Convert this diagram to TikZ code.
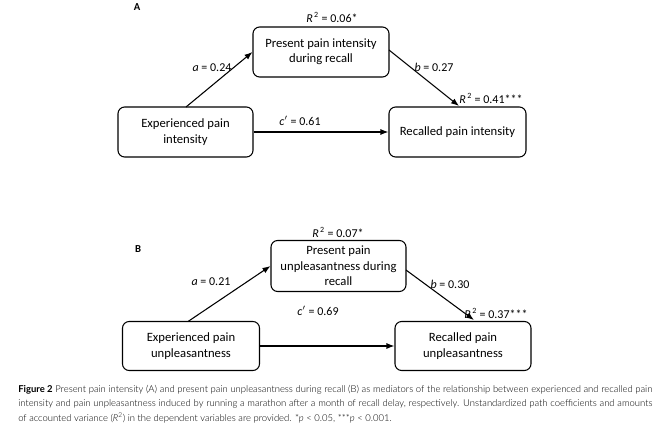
\documentclass[tikz,border=0pt]{standalone}
\usepackage{fontspec}
\setmainfont{Carlito}
\newfontfamily\capfont{Lato Light}
\newcommand{\Rsq}{\textit{R}\textsuperscript{\,2}}
\usetikzlibrary{arrows.meta}
\begin{document}
\begin{tikzpicture}[x=0.75pt,y=-0.75pt,
  box/.style={draw,rounded corners=5pt,line width=0.8pt,align=center,font=\fontsize{9.5}{11.5}\selectfont},
  lab/.style={font=\fontsize{9}{11}\selectfont},
  arr/.style={-{Latex[length=6pt,width=4.5pt]},line width=0.8pt}]
\useasboundingbox (0,0) rectangle (668,429);
% Panel A
\node[font=\bfseries\fontsize{8}{10}\selectfont] (LA) at (137,7) {A};
\node[box,minimum width=136*0.75pt,minimum height=50*0.75pt] (mA) at (321,52) {Present pain intensity\\during recall};
\node[box,minimum width=135*0.75pt,minimum height=50*0.75pt] (xA) at (185.5,132) {Experienced pain\\intensity};
\node[box,minimum width=137*0.75pt,minimum height=50*0.75pt] (yA) at (457.5,132) {Recalled pain intensity};
\coordinate (xAt) at (186,107);
\coordinate (mAr) at (389,50);
\coordinate (yAt) at (459,106);
\draw[arr] (xAt) -- (mA.west);
\draw[arr] (mAr) -- (yAt);
\draw[arr] (xA.east) -- (yA.west);
\node[lab] (r1) at (332,17) {\Rsq{} = 0.06*};
\node[lab] (a1) at (212,68) {\textit{a} = 0.24};
\node[lab] (b1) at (434,67) {\textit{b} = 0.27};
\node[lab] (r2) at (491,98) {\Rsq{} = 0.41***};
\node[lab] (c1) at (300,121) {\textit{c}$'$ = 0.61};
% Panel B
\node[font=\bfseries\fontsize{8}{10}\selectfont] (LB) at (138,249) {B};
\node[box,minimum width=135*0.75pt,minimum height=51*0.75pt] (mB) at (338.5,266) {Present pain\\unpleasantness during\\recall};
\node[box,minimum width=137*0.75pt,minimum height=49*0.75pt] (xB) at (191,346) {Experienced pain\\unpleasantness};
\node[box,minimum width=136*0.75pt,minimum height=49*0.75pt] (yB) at (463,346) {Recalled pain\\unpleasantness};
\coordinate (xBt) at (188,321.5);
\coordinate (mBr) at (406,270);
\coordinate (yBt) at (474,320);
\draw[arr] (xBt) -- (mB.west);
\draw[arr] (mBr) -- (yBt);
\draw[arr] (xB.east) -- (yB.west);
\node[lab] (r3) at (338,232) {\Rsq{} = 0.07*};
\node[lab] (a2) at (211,282) {\textit{a} = 0.21};
\node[lab] (b2) at (450,284) {\textit{b} = 0.30};
\node[lab] (r4) at (496,313) {\Rsq{} = 0.37***};
\node[lab] (c2) at (318,311) {\textit{c}$'$ = 0.69};
% Caption
\node[anchor=north west,text width=634*0.75pt,align=justify,inner sep=0pt,font=\capfont\fontsize{7.1}{10.8}\selectfont] (cap) at (18,385)
{{\fontspec{Lato}\textbf{Figure 2}} Present pain intensity (A) and present pain unpleasantness during recall (B) as mediators of the relationship between experienced and recalled pain intensity and pain unpleasantness induced by running a marathon after a month of recall delay, respectively. Unstandardized path coefficients and amounts of accounted variance (\textit{R}\textsuperscript{2}) in the dependent variables are provided. *\textit{p} < 0.05, ***\textit{p} < 0.001.};
\end{tikzpicture}
\end{document}
